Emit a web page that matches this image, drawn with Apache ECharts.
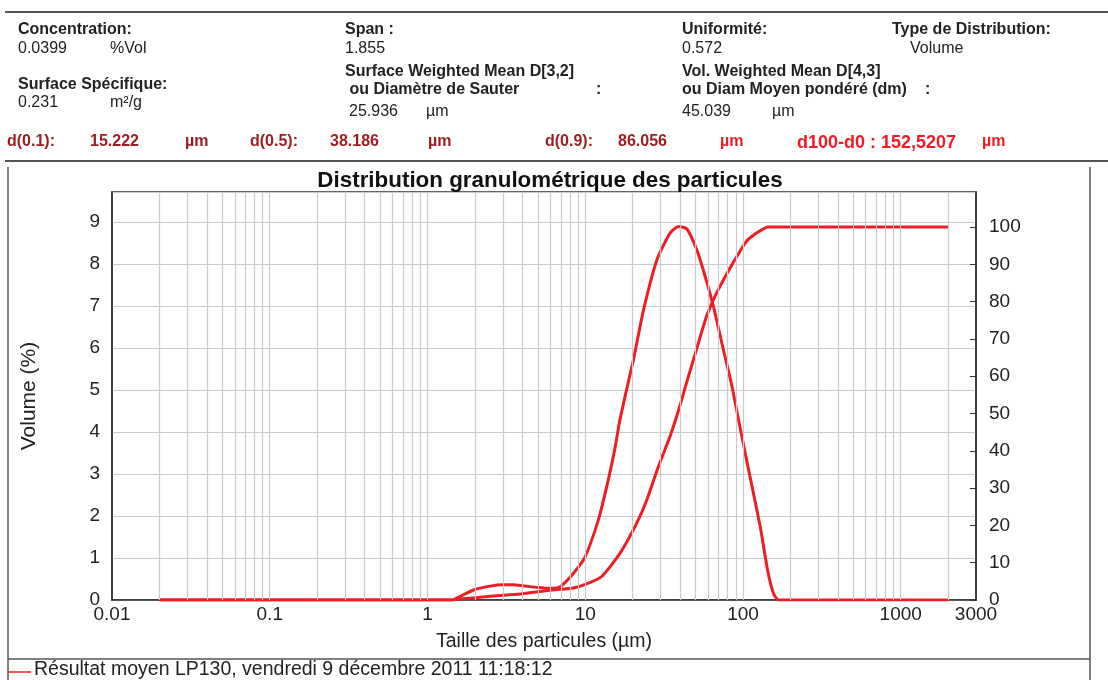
<!DOCTYPE html>
<html><head><meta charset="utf-8">
<script src="https://cdn.jsdelivr.net/npm/echarts@6/dist/echarts.min.js"></script>
<style>html,body{margin:0;padding:0;background:#fff}#c{width:1108px;height:680px}</style>
</head><body><div id="c"></div>
<script>
// ---- data ----
const sizesFreq = [0.02, 1.45, 1.5, 1.7, 2.0, 2.5, 3.0, 3.5, 4.0, 5.0, 6.0, 6.9, 8.4, 10, 12.1, 14, 15.5, 16.6, 18.8, 20.2, 23.4, 28.5, 34.5, 39, 44.1, 51, 57.6, 65, 75.2, 85, 93.7, 108.5, 128.6, 143.2, 156, 168, 2000];
const volumePct = [0, 0, 0.03, 0.13, 0.25, 0.33, 0.36, 0.36, 0.34, 0.30, 0.28, 0.31, 0.63, 1.03, 1.9, 2.86, 3.65, 4.29, 5.2, 5.71, 6.9, 8.1, 8.73, 8.89, 8.83, 8.33, 7.7, 6.98, 5.95, 5.1, 4.29, 3.1, 1.75, 0.71, 0.16, 0, 0];
const sizesCum = [0.02, 1.45, 1.6, 2.0, 2.5, 3.0, 4.0, 5.0, 6.0, 7.0, 8.4, 10.2, 12.7, 16.6, 21.2, 24.6, 29.1, 34.5, 40, 43, 51, 58.9, 68.2, 87.1, 105.8, 120, 134.8, 143, 2000];
const cumulativePct = [0, 0, 0.3, 0.6, 1.0, 1.3, 1.7, 2.2, 2.6, 2.9, 3.2, 4.3, 6.3, 12.5, 20.6, 26.9, 35.8, 43.9, 52.3, 57.0, 67.5, 76.2, 82.4, 90.6, 96.3, 98.2, 99.5, 100, 100];
const xTickLabels = ['0.01', '0.1', '1', '10', '100', '1000', '3000'];
const headerLabels = ['Concentration:', 'Span :', 'Uniformité:', 'Type de Distribution:', 'Surface Spécifique:', 'Surface Weighted Mean D[3,2]', ' ou Diamètre de Sauter', 'Vol. Weighted Mean D[4,3]', 'ou Diam Moyen pondéré (dm)'];
const headerValues = ['0.0399', '%Vol', '1.855', '0.572', 'Volume', '0.231', 'm²/g', '25.936', 'µm', '45.039', 'µm'];
const dLabels = ['d(0.1):', 'd(0.5):', 'd(0.9):'];
const dValues = ['15.222', '38.186', '86.056'];
const spanText = 'd100-d0 : 152,5207';
const titleText = 'Distribution granulométrique des particules';
const legendText = 'Résultat moyen LP130, vendredi 9 décembre 2011 11:18:12';

// ---- style ----
const FONT = '"Liberation Sans", Arial, Helvetica, sans-serif';
const RED = '#ee1c25';
const DARKRED = '#9e1b1f';
const GRID = '#cacaca';
const TXT = '#222';

const minorX = [];
for (let e = -2; e <= 3; e++) {
  for (let m = 1; m <= 9; m++) {
    const v = +(m * Math.pow(10, e)).toPrecision(3);
    if (v > 0.01 && v < 3000) minorX.push(v);
  }
}

function t(x, y, text, opt) {
  return {
    type: 'text', x: x, y: y, silent: true,
    style: Object.assign({ text: text, font: '16px ' + FONT, fill: TXT, textVerticalAlign: 'middle' }, opt || {})
  };
}
const B = 'bold 16px ' + FONT;
const D = 'bold 16px ' + FONT;
const graphics = [
  { type: 'line', silent: true, shape: { x1: 5, y1: 12, x2: 1108, y2: 12 }, style: { stroke: '#555', lineWidth: 2 } },
  { type: 'line', silent: true, shape: { x1: 5, y1: 161, x2: 1108, y2: 161 }, style: { stroke: '#555', lineWidth: 2 } },
  { type: 'line', silent: true, shape: { x1: 8, y1: 167, x2: 8, y2: 680 }, style: { stroke: '#555', lineWidth: 1.5 } },
  { type: 'line', silent: true, shape: { x1: 1090, y1: 167, x2: 1090, y2: 680 }, style: { stroke: '#555', lineWidth: 1.5 } },
  { type: 'line', silent: true, shape: { x1: 8, y1: 659, x2: 1090, y2: 659 }, style: { stroke: '#555', lineWidth: 1.5 } },
  { type: 'line', silent: true, shape: { x1: 8, y1: 672, x2: 31, y2: 672 }, style: { stroke: RED, lineWidth: 1.5 } },
  t(18, 30, headerLabels[0], { font: B }),
  t(345, 30, headerLabels[1], { font: B }),
  t(682, 30, headerLabels[2], { font: B }),
  t(892, 30, headerLabels[3], { font: B }),
  t(18, 49, headerValues[0]),
  t(110, 49, headerValues[1]),
  t(345, 49, headerValues[2]),
  t(682, 49, headerValues[3]),
  t(910, 49, headerValues[4]),
  t(18, 85, headerLabels[4], { font: B }),
  t(18, 103, headerValues[5]),
  t(110, 103, headerValues[6]),
  t(345, 72, headerLabels[5], { font: B }),
  t(345, 90, headerLabels[6], { font: B }),
  t(596, 90, ':', { font: B }),
  t(349, 112, headerValues[7]),
  t(426, 112, headerValues[8]),
  t(682, 72, headerLabels[7], { font: B }),
  t(682, 90, headerLabels[8], { font: B }),
  t(925, 90, ':', { font: B }),
  t(682, 112, headerValues[9]),
  t(772, 112, headerValues[10]),
  t(7, 142, dLabels[0], { font: D, fill: DARKRED }),
  t(90, 142, dValues[0], { font: D, fill: DARKRED }),
  t(185, 142, 'µm', { font: D, fill: DARKRED }),
  t(250, 142, dLabels[1], { font: D, fill: DARKRED }),
  t(330, 142, dValues[1], { font: D, fill: DARKRED }),
  t(428, 142, 'µm', { font: D, fill: DARKRED }),
  t(545, 142, dLabels[2], { font: D, fill: DARKRED }),
  t(618, 142, dValues[2], { font: D, fill: DARKRED }),
  t(720, 142, 'µm', { font: D, fill: RED }),
  t(797, 143, spanText, { font: 'bold 18px ' + FONT, fill: RED }),
  t(982, 142, 'µm', { font: D, fill: RED }),
  t(550, 181, titleText, { font: 'bold 22.4px ' + FONT, fill: '#111', textAlign: 'center' }),
  t(34, 670, legendText, { font: '19.5px ' + FONT, fill: TXT })
];

const chart = echarts.init(document.getElementById('c'), null, { renderer: 'canvas' });
chart.setOption({
  animation: false,
  backgroundColor: '#fff',
  textStyle: { fontFamily: FONT },
  graphic: graphics,
  grid: { left: 112, right: 132, top: 192, bottom: 80, show: true, borderColor: '#333', borderWidth: 1.5, backgroundColor: 'transparent' },
  xAxis: {
    type: 'log', logBase: 10, min: 0.01, max: 3000,
    name: 'Taille des particules (µm)', nameLocation: 'middle', nameGap: 32,
    nameTextStyle: { fontSize: 19.5, color: TXT, fontFamily: FONT },
    axisLine: { show: true, lineStyle: { color: '#333', width: 1.5 } },
    axisTick: { show: false },
    splitLine: { show: false },
    axisLabel: {
      fontSize: 19, color: TXT, margin: 5, showMinLabel: true, showMaxLabel: true,
      formatter: function (v) { return String(+(+v).toPrecision(6)); }
    }
  },
  yAxis: [{
    type: 'value', min: 0, max: 9.71, interval: 1, position: 'left',
    name: 'Volume (%)', nameLocation: 'middle', nameGap: 72, nameRotate: 90,
    nameTextStyle: { fontSize: 21, color: TXT, fontFamily: FONT },
    axisLine: { show: true, lineStyle: { color: '#333', width: 1.5 } },
    axisTick: { show: false },
    splitLine: { show: true, lineStyle: { color: GRID, width: 1.2 } },
    axisLabel: {
      fontSize: 19, color: TXT, margin: 12, showMaxLabel: false,
      formatter: function (v) { return Number.isInteger(v) ? String(v) : ''; }
    }
  }, {
    type: 'value', min: 0, max: 109.4, interval: 10, position: 'right',
    axisLine: { show: true, lineStyle: { color: '#333', width: 1.5 } },
    axisTick: { show: true, inside: true, length: 6, lineStyle: { color: '#333' } },
    splitLine: { show: false },
    axisLabel: {
      fontSize: 19, color: TXT, margin: 13, showMaxLabel: false,
      formatter: function (v) { return (v % 10 === 0) ? String(v) : ''; }
    }
  }],
  series: [{
    name: 'grid', type: 'line', z: 1, silent: true, yAxisIndex: 0,
    data: [[0.02, 0]], showSymbol: false, lineStyle: { opacity: 0 },
    markLine: {
      silent: true, symbol: 'none', label: { show: false },
      lineStyle: { color: GRID, type: 'solid', width: 1.2 },
      data: minorX.map(v => ({ xAxis: v }))
    }
  }, {
    name: 'Volume', type: 'line', z: 3, yAxisIndex: 0, showSymbol: false, smooth: 0.2,
    lineStyle: { color: RED, width: 3 },
    data: sizesFreq.map((s, i) => [s, volumePct[i]])
  }, {
    name: 'Cumul', type: 'line', z: 3, yAxisIndex: 1, showSymbol: false, smooth: 0.2,
    lineStyle: { color: RED, width: 3 },
    data: sizesCum.map((s, i) => [s, cumulativePct[i]])
  }]
});
</script></body></html>
